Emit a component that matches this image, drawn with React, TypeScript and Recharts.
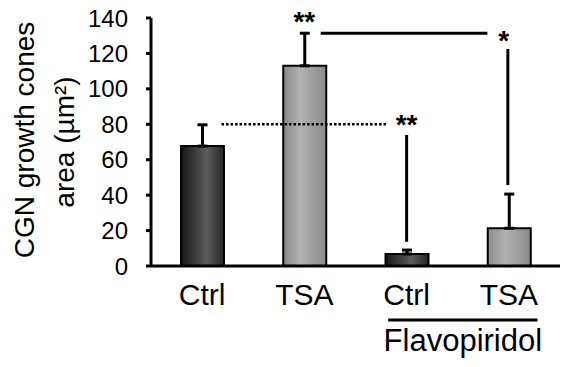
import React from 'react'
import {
  ComposedChart, Bar, XAxis, YAxis, ErrorBar, Cell, ReferenceLine, ReferenceDot,
} from 'recharts'

// bar positions on a 0..4 numeric axis, one unit per group
const POS = [0.5, 1.5, 2.5, 3.5]
const LABELS = ['Ctrl', 'TSA', 'Ctrl', 'TSA']
const AREA = [67.7, 113, 6.8, 21.3]
const SEM = [12, 18.4, 2.2, 19.3]
const KIND = ['ctrl', 'tsa', 'ctrl', 'tsa']
const Y_TICKS = [0, 20, 40, 60, 80, 100, 120, 140]

// significance marks, in axis units (x = group position, y = µm²)
const SOLID_LINES = [
  { x1: 1.66, x2: 3.29, y1: 131.4, y2: 131.4 },
  { x1: 2.5, x2: 2.5, y1: 74, y2: 13.7 },
  { x1: 3.49, x2: 3.49, y1: 122.5, y2: 45.7 },
]
const DOTTED_LINES = [{ x1: 0.69, x2: 2.3, y1: 80, y2: 80 }]
const STARS = [
  { x: 1.5, y: 132.7, text: '**' },
  { x: 2.5, y: 74.5, text: '**' },
  { x: 3.45, y: 121.8, text: '*' },
]
const GROUP = { x1: 2.32, x2: 3.78, y: -30.5, labelY: -47.8, text: 'Flavopiridol' }

const FONT = '"Liberation Sans", Arial, sans-serif'

const data = POS.map((x, i) => ({ x, label: LABELS[i], area: AREA[i], err: [0, SEM[i]], kind: KIND[i] }))

const XTick = (props: any) => {
  const { x, y, payload } = props
  const i = POS.indexOf(payload.value)
  return (
    <text x={x} y={y + 39} textAnchor="middle" fontSize={30} fontFamily={FONT} fill="#000">
      {LABELS[i]}
    </text>
  )
}

const YLabel = () => (
  <g fontFamily={FONT} fontSize={28} fill="#000">
    <text transform="translate(34,140) rotate(-90)" textAnchor="middle">CGN growth cones</text>
    <text transform="translate(74,142) rotate(-90)" textAnchor="middle">area (µm²)</text>
  </g>
)

const starShape = (text: string) => (p: any) => (
  <text x={p.cx} y={p.cy} textAnchor="middle" fontSize={28} fontWeight="bold" fontFamily={FONT} fill="#000">
    {text}
  </text>
)

export default function App() {
  return (
    <div style={{ position: 'absolute', left: 0, top: 0, width: 566, height: 367, background: '#fff' }}>
      <ComposedChart width={566} height={367} data={data} margin={{ top: 18, right: 6, bottom: 0, left: 0 }}>
        <defs>
          <linearGradient id="gDark" x1="0" y1="0" x2="1" y2="0">
            <stop offset="0%" stopColor="#161616" />
            <stop offset="60%" stopColor="#5c5c5c" />
            <stop offset="100%" stopColor="#262626" />
          </linearGradient>
          <linearGradient id="gLight" x1="0" y1="0" x2="1" y2="0">
            <stop offset="0%" stopColor="#8a8a8a" />
            <stop offset="40%" stopColor="#b2b2b2" />
            <stop offset="100%" stopColor="#8a8a8a" />
          </linearGradient>
        </defs>
        <XAxis
          dataKey="x"
          type="number"
          domain={[0, 4]}
          ticks={POS}
          interval={0}
          height={101}
          tick={<XTick />}
          tickLine={false}
          tickSize={0}
          tickMargin={0}
          axisLine={{ stroke: '#000', strokeWidth: 3 }}
        />
        <YAxis
          type="number"
          domain={[0, 140]}
          ticks={Y_TICKS}
          interval={0}
          width={151}
          tickSize={5}
          tickMargin={18}
          axisLine={{ stroke: '#000', strokeWidth: 3 }}
          tickLine={{ stroke: '#000', strokeWidth: 3 }}
          tick={{ fill: '#000', fontSize: 24, fontFamily: FONT }}
          label={{ content: () => <YLabel /> }}
        />
        <Bar dataKey="area" barSize={43} stroke="#000" strokeWidth={2} isAnimationActive={false}>
          {data.map((d, i) => (
            <Cell key={i} fill={d.kind === 'ctrl' ? 'url(#gDark)' : 'url(#gLight)'} />
          ))}
          <ErrorBar dataKey="err" width={5} stroke="#000" strokeWidth={3} direction="y" isAnimationActive={false} />
        </Bar>
        {DOTTED_LINES.map((l, i) => (
          <ReferenceLine
            key={'d' + i}
            segment={[{ x: l.x1, y: l.y1 }, { x: l.x2, y: l.y2 }]}
            stroke="#000"
            strokeWidth={2.5}
            strokeDasharray="2.5 2"
            ifOverflow="visible"
          />
        ))}
        {SOLID_LINES.map((l, i) => (
          <ReferenceLine
            key={'s' + i}
            segment={[{ x: l.x1, y: l.y1 }, { x: l.x2, y: l.y2 }]}
            stroke="#000"
            strokeWidth={3}
            ifOverflow="visible"
          />
        ))}
        {STARS.map((s, i) => (
          <ReferenceDot key={'t' + i} x={s.x} y={s.y} r={0} ifOverflow="visible" shape={starShape(s.text)} />
        ))}
        <ReferenceLine
          segment={[{ x: GROUP.x1, y: GROUP.y }, { x: GROUP.x2, y: GROUP.y }]}
          stroke="#000"
          strokeWidth={3}
          ifOverflow="visible"
        />
        <ReferenceDot
          x={(GROUP.x1 + GROUP.x2) / 2}
          y={GROUP.labelY}
          r={0}
          ifOverflow="visible"
          shape={(p: any) => (
            <text x={p.cx} y={p.cy} textAnchor="middle" fontSize={31} fontFamily={FONT} fill="#000">
              {GROUP.text}
            </text>
          )}
        />
      </ComposedChart>
    </div>
  )
}
